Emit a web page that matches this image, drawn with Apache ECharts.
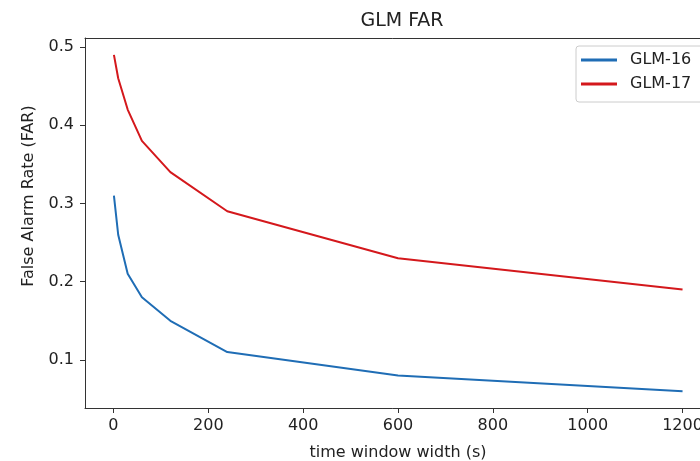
<!DOCTYPE html>
<html>
<head>
<meta charset="utf-8">
<script src="https://cdn.jsdelivr.net/npm/echarts@6/dist/echarts.min.js"></script>
<style>
  html, body { margin: 0; padding: 0; background: #fff; }
  #main { width: 700px; height: 461px; }
</style>
</head>
<body>
<div id="main"></div>
<script>
// 数据
var windowWidth = [1, 10, 30, 60, 120, 240, 600, 1200];
var glm16 = [0.31, 0.26, 0.21, 0.18, 0.15, 0.11, 0.08, 0.06];
var glm17 = [0.49, 0.46, 0.42, 0.38, 0.34, 0.29, 0.23, 0.19];
var xTicks = [0, 200, 400, 600, 800, 1000, 1200];
var yTicks = [0.1, 0.2, 0.3, 0.4, 0.5];

function pairs(xs, ys) {
    return xs.map(function (x, i) { return [x, ys[i]]; });
}

var myChart = echarts.init(document.getElementById('main'));
var font = 'DejaVu Sans';
var ink = '#222';

myChart.setOption({
    animation: false,
    title: {
        text: 'GLM FAR',
        left: 397,
        textAlign: 'center',
        top: 7,
        textStyle: { fontFamily: font, fontSize: 19, fontWeight: 'normal', color: ink }
    },
    legend: {
        orient: 'vertical',
        left: 576,
        top: 46,
        itemWidth: 36,
        itemHeight: 3,
        itemGap: 8,
        icon: 'rect',
        padding: [6, 30, 10, 5],
        borderColor: '#ccc',
        borderWidth: 1,
        borderRadius: 3,
        textStyle: { fontFamily: font, fontSize: 16, color: ink, padding: [0, 0, 0, 8] },
        data: ['GLM-16', 'GLM-17']
    },
    // 绘图区右侧超出画面，不画右边框
    grid: {
        left: 85,
        top: 38,
        width: 626,
        height: 370,
        show: false,
        outerBoundsMode: 'none',
        containLabel: false
    },
    xAxis: [{
        type: 'value',
        min: -60,
        max: 1260,
        name: 'time window width (s)',
        nameLocation: 'middle',
        nameGap: 37,
        nameTextStyle: { fontFamily: font, fontSize: 16, color: ink },
        axisLine: { show: true, onZero: false, lineStyle: { color: '#333', width: 1 } },
        axisTick: { show: true, length: 5, customValues: xTicks, lineStyle: { color: '#333' } },
        axisLabel: { customValues: xTicks, formatter: function (v) { return String(v); },
            fontFamily: font, fontSize: 16, color: ink, margin: 10 },
        splitLine: { show: false }
    }, {
        type: 'value',
        position: 'top',
        min: -60,
        max: 1260,
        axisLine: { show: true, onZero: false, lineStyle: { color: '#333', width: 1 } },
        axisTick: { show: false },
        axisLabel: { show: false },
        splitLine: { show: false }
    }],
    yAxis: {
        type: 'value',
        min: 0.0385,
        max: 0.5115,
        name: 'False Alarm Rate (FAR)',
        nameLocation: 'middle',
        nameGap: 48,
        nameTextStyle: { fontFamily: font, fontSize: 16, color: ink, padding: [0, 0, 0, 54] },
        axisLine: { show: true, onZero: false, lineStyle: { color: '#333', width: 1 } },
        axisTick: { show: true, length: 5, customValues: yTicks, lineStyle: { color: '#333' } },
        axisLabel: { customValues: yTicks, formatter: function (v) { return v.toFixed(1); },
            fontFamily: font, fontSize: 16, color: ink, margin: 11 },
        splitLine: { show: false }
    },
    series: [
        {
            name: 'GLM-16', type: 'line', data: pairs(windowWidth, glm16),
            showSymbol: false, color: '#1f6db5', lineStyle: { width: 2 }
        },
        {
            name: 'GLM-17', type: 'line', data: pairs(windowWidth, glm17),
            showSymbol: false, color: '#d4181c', lineStyle: { width: 2 }
        }
    ]
});
</script>
</body>
</html>
